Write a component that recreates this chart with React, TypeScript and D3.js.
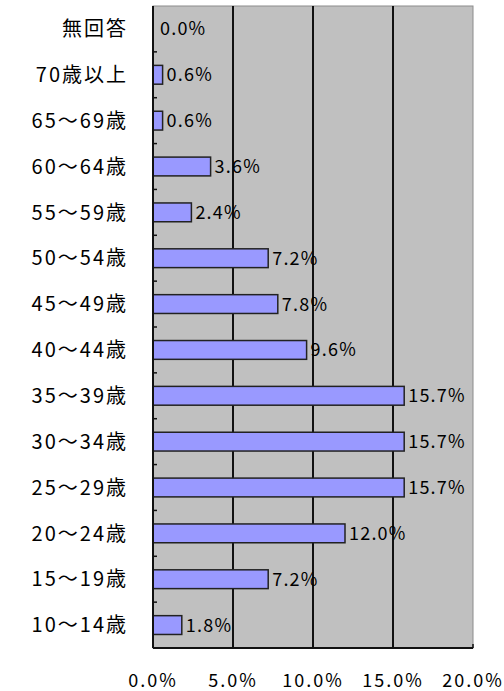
import React, { useEffect, useRef } from "react";
import * as d3 from "d3";

const categories = [
  "無回答",
  "70歳以上",
  "65～69歳",
  "60～64歳",
  "55～59歳",
  "50～54歳",
  "45～49歳",
  "40～44歳",
  "35～39歳",
  "30～34歳",
  "25～29歳",
  "20～24歳",
  "15～19歳",
  "10～14歳",
];
const values = [0.0, 0.6, 0.6, 3.6, 2.4, 7.2, 7.8, 9.6, 15.7, 15.7, 15.7, 12.0, 7.2, 1.8];
const xTicks = [0, 5, 10, 15, 20];

const App: React.FC = () => {
  const svgRef = useRef<SVGSVGElement>(null);

  useEffect(() => {
    const svg = d3.select(svgRef.current);
    svg.selectAll("*").remove();

    const width = 504;
    const height = 691;
    const margin = { top: 6, right: 31, bottom: 43, left: 153 };
    const font = "'Noto Sans CJK JP', sans-serif";

    const x = d3.scaleLinear().domain([0, 20]).range([margin.left, width - margin.right]);
    const y = d3
      .scaleBand<string>()
      .domain(categories)
      .range([margin.top, height - margin.bottom])
      .paddingInner(0.59)
      .paddingOuter(0.295);
    const band = d3
      .scaleBand<string>()
      .domain(categories)
      .range([margin.top, height - margin.bottom]);

    // plot background
    svg
      .append("rect")
      .attr("x", x(0))
      .attr("y", margin.top)
      .attr("width", x(20) - x(0))
      .attr("height", height - margin.bottom - margin.top)
      .attr("fill", "#c0c0c0")
      .attr("stroke", "#8c8c8c")
      .attr("stroke-width", 1);

    // gridlines
    svg
      .selectAll(".grid")
      .data(xTicks.slice(1, -1))
      .enter()
      .append("line")
      .attr("x1", (d) => x(d))
      .attr("x2", (d) => x(d))
      .attr("y1", margin.top)
      .attr("y2", height - margin.bottom)
      .attr("stroke", "#111")
      .attr("stroke-width", 2);

    // bars
    svg
      .selectAll(".bar")
      .data(values)
      .enter()
      .append("rect")
      .attr("x", x(0))
      .attr("y", (_, i) => y(categories[i])!)
      .attr("width", (d) => x(d) - x(0))
      .attr("height", y.bandwidth())
      .attr("fill", (d) => (d > 0 ? "#9999ff" : "none"))
      .attr("stroke", (d) => (d > 0 ? "#222" : "none"))
      .attr("stroke-width", 1.5);

    // value labels
    svg
      .selectAll(".val")
      .data(values)
      .enter()
      .append("text")
      .attr("x", (d) => x(d) + (d > 0 ? 4 : 7))
      .attr("y", (_, i) => y(categories[i])! + y.bandwidth() / 2)
      .attr("dy", "0.36em")
      .attr("font-family", font)
      .attr("font-size", 18)
      .attr("letter-spacing", 1.2)
      .attr("fill", "#000")
      .text((d) => `${d.toFixed(1)}%`);

    // left axis
    svg
      .append("line")
      .attr("x1", x(0))
      .attr("x2", x(0))
      .attr("y1", margin.top)
      .attr("y2", height - margin.bottom)
      .attr("stroke", "#111")
      .attr("stroke-width", 2);

    // left ticks (inside) at band boundaries
    svg
      .selectAll(".ytick")
      .data(categories.slice(1))
      .enter()
      .append("line")
      .attr("x1", x(0))
      .attr("x2", x(0) + 4)
      .attr("y1", (d) => band(d)!)
      .attr("y2", (d) => band(d)!)
      .attr("stroke", "#111")
      .attr("stroke-width", 1.5);

    // category labels
    svg
      .selectAll(".cat")
      .data(categories)
      .enter()
      .append("text")
      .attr("x", 128)
      .attr("y", (d) => band(d)! + band.bandwidth() / 2)
      .attr("dy", "0.36em")
      .attr("text-anchor", "end")
      .attr("font-family", font)
      .attr("font-size", 20)
      .attr("letter-spacing", 2)
      .attr("fill", "#000")
      .text((d) => d);

    // bottom axis
    svg
      .append("line")
      .attr("x1", x(0))
      .attr("x2", x(20))
      .attr("y1", height - margin.bottom)
      .attr("y2", height - margin.bottom)
      .attr("stroke", "#111")
      .attr("stroke-width", 2);

    svg
      .selectAll(".xtick")
      .data(xTicks)
      .enter()
      .append("line")
      .attr("x1", (d) => x(d))
      .attr("x2", (d) => x(d))
      .attr("y1", height - margin.bottom)
      .attr("y2", height - margin.bottom - 4)
      .attr("stroke", "#111")
      .attr("stroke-width", 1.5);

    svg
      .selectAll(".xlab")
      .data(xTicks)
      .enter()
      .append("text")
      .attr("x", (d) => x(d))
      .attr("y", 687)
      .attr("text-anchor", "middle")
      .attr("font-family", font)
      .attr("font-size", 18)
      .attr("letter-spacing", 2)
      .attr("fill", "#000")
      .text((d) => `${d.toFixed(1)}%`);
  }, []);

  return (
    <svg
      ref={svgRef}
      width={504}
      height={691}
      style={{ position: "absolute", left: 0, top: 0, background: "#fff" }}
    />
  );
};

export default App;
